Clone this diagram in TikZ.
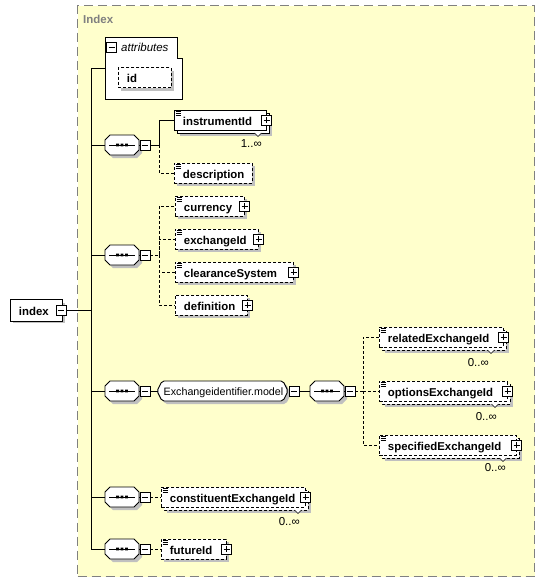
\documentclass[tikz,border=0pt]{standalone}
\usepackage{fontspec}
\setmainfont{Liberation Sans}
\usetikzlibrary{calc}
\definecolor{bgyellow}{RGB}{255,255,204}
\definecolor{shadowgray}{RGB}{192,192,192}
\definecolor{framegray}{RGB}{128,128,128}
\newcommand\elemfont{\bfseries\fontsize{11.4}{13}\selectfont}
\tikzset{
  conn/.style={line width=0.9pt},
  opt/.style={dash pattern=on 3pt off 2pt},
  ebox/.style={draw=black, fill=white, line width=0.9pt, inner sep=0pt, minimum height=20pt, anchor=west, font=\elemfont, text height=11pt, text depth=1pt},
  pmbox/.style={draw=black, fill=white, line width=0.9pt, inner sep=0pt, minimum size=10pt},
  mult/.style={font=\fontsize{11.5}{13}\selectfont, inner sep=0pt, anchor=east},
}
% plus box: name, position
\newcommand\plusbox[2]{%
  \node[pmbox] (#1) at (#2) {};
  \draw[line width=0.9pt] ([xshift=-3.2pt]#1.center) -- ([xshift=3.2pt]#1.center)
    ([yshift=-3.2pt]#1.center) -- ([yshift=3.2pt]#1.center);}
% minus box with dark shadow: name, position
\newcommand\minusbox[2]{%
  \fill[black] ($(#2)+(-3.6,-3.6)$) rectangle ($(#2)+(6.4,6.4)$);
  \node[pmbox] (#1) at (#2) {};
  \draw[line width=0.9pt] ([xshift=-3.2pt]#1.center) -- ([xshift=3.2pt]#1.center);}
% single element: name, x1, width, yc, style, text
\newcommand\elem[6]{%
  \fill[shadowgray] (#2+3,#4-7) rectangle (#2+#3+3,#4+13);
  \node[ebox,#5] (#1) at (#2,#4) {\makebox[#3pt][l]{\hspace*{8.5pt}#6}};}
% multiple element: name, x1, width, yc, style, text
\newcommand\multielem[6]{%
  \fill[shadowgray] (#2+6,#4-4) rectangle (#2+#3+6,#4+16);
  \draw[fill=white, line width=0.9pt, #5] (#2+3,#4-7) rectangle (#2+#3+3,#4+13);
  \node[ebox,#5] (#1) at (#2,#4) {\makebox[#3pt][l]{\hspace*{8.5pt}#6}};}
% documentation icon
\newcommand\docicon[1]{%
  \draw[line width=0.6pt] ([shift={(1.5,1.8)}]#1.north west) -- ++(5.5,0)
    ([shift={(1.5,3.8)}]#1.north west) -- ++(5.5,0)
    ([shift={(1.5,5.8)}]#1.north west) -- ++(5.5,0);}
% multiplicity notch: x, y
\newcommand\notch[2]{%
  \draw[fill=white, line width=0.6pt] (#1-3.5,#2) -- (#1,#2+3.5) -- (#1+3.5,#2);}
% sequence compositor: name, xc, yc
\newcommand\seq[3]{%
  \begin{scope}[shift={(#2,#3)}]
    \fill[shadowgray] (-14,-2) -- (-9,-7) -- (15,-7) -- (20,-2) -- (20,8) -- (15,13) -- (-9,13) -- (-14,8) -- cycle;
    \draw[fill=white, line width=0.9pt] (-17,-5) -- (-12,-10) -- (12,-10) -- (17,-5) -- (17,5) -- (12,10) -- (-12,10) -- (-17,5) -- cycle;
    \draw[line width=0.9pt] (-13,0) -- (13,0);
    \fill (-5.8,-1.4) rectangle ++(2.8,2.8) (-1.4,-1.4) rectangle ++(2.8,2.8) (3,-1.4) rectangle ++(2.8,2.8);
  \end{scope}
  \node[inner sep=0pt, minimum width=34pt, minimum height=20pt] (#1) at (#2,#3) {};
  \minusbox{#1-m}{#2+23,#3}
  \draw[conn] (#1.east) -- (#1-m.west);}
\begin{document}
\begin{tikzpicture}[x=1pt,y=-1pt]
\useasboundingbox (0,0) rectangle (544,582);
% frame
\node[draw=framegray, dash pattern=on 9pt off 5pt, fill=bgyellow, line width=1.3pt,
      minimum width=457pt, minimum height=571pt, anchor=north west, inner sep=0pt] (frame) at (77,5) {};
\node[anchor=west, font=\bfseries\fontsize{11.5}{13}\selectfont, text=framegray, inner sep=0pt] (ttl) at (83,19) {Index};

% trunk
\coordinate (ttop) at (91,68);
\coordinate (tbot) at (91,549);
\draw[conn] (ttop) -- (tbot);

% index element
\elem{index}{10}{52}{310}{minimum height=22pt}{index}
\minusbox{index-m}{61,310}
\draw[conn] (index-m.east) -- (index-m.east -| ttop);

% attributes
\draw[fill=white, line width=0.9pt] (105,37) -- (177,37) -- (177,58) -- (182,58) -- (182,99) -- (105,99) -- cycle;
\node[inner sep=0pt, minimum width=77pt, minimum height=62pt] (attr) at (143.5,68) {};
\node[pmbox, minimum size=9.5pt] (attr-m) at (111.5,47.5) {};
\draw[line width=0.9pt] ([xshift=-3pt]attr-m.center) -- ([xshift=3pt]attr-m.center);
\node[anchor=west, inner sep=0pt, font=\itshape\fontsize{11.5}{13}\selectfont, text height=9pt, text depth=1pt] (attr-t) at (121,47.5) {attributes};
\elem{id}{118}{53}{77.5}{opt}{id}
\draw[conn] (ttop) -- (attr.west);

% sequence 1
\seq{s1}{122}{145}
\draw[conn] (s1.west -| ttop) -- (s1.west);
\multielem{inst}{174}{92}{120}{}{instrumentId}
\docicon{inst}
\plusbox{inst-p}{inst.east}
\notch{258}{133}
\node[mult] (inst-mul) at (262,144) {1..∞};
\elem{desc}{174}{78}{173}{opt}{description}
\docicon{desc}
\coordinate (b1) at (159,145);
\draw[conn] (s1-m.east) -- (b1) |- (inst.west);
\draw[conn,opt] (b1) |- (desc.west);

% sequence 2
\seq{s2}{122}{255}
\draw[conn] (s2.west -| ttop) -- (s2.west);
\elem{curr}{175}{69}{206}{opt}{currency}
\docicon{curr}
\plusbox{curr-p}{curr.east}
\elem{exch}{175}{83}{239}{opt}{exchangeId}
\docicon{exch}
\plusbox{exch-p}{exch.east}
\elem{clear}{175}{118}{272}{opt}{clearanceSystem}
\docicon{clear}
\plusbox{clear-p}{clear.east}
\elem{defn}{175}{72}{305}{opt}{definition}
\plusbox{defn-p}{defn.east}
\coordinate (b2) at (159,255);
\draw[conn,opt] (s2-m.east) -- (b2) |- (curr.west);
\draw[conn,opt] (b2) |- (exch.west);
\draw[conn,opt] (b2) |- (clear.west);
\draw[conn,opt] (b2) |- (defn.west);

% sequence 3
\seq{s3}{122}{391}
\draw[conn] (s3.west -| ttop) -- (s3.west);
\begin{scope}[shift={(222.5,391)}]
  \fill[shadowgray, rounded corners=2pt] (-62.5,3) -- (-57.5,-7) -- (63.5,-7) -- (68.5,3) -- (63.5,13) -- (-57.5,13) -- cycle;
  \draw[fill=white, line width=0.9pt, rounded corners=2pt] (-65.5,0) -- (-60.5,-10) -- (60.5,-10) -- (65.5,0) -- (60.5,10) -- (-60.5,10) -- cycle;
\end{scope}
\node[inner sep=0pt, minimum width=131pt, minimum height=20pt, font=\fontsize{10.7}{13}\selectfont, text height=10pt, text depth=1pt] (model) at (223.5,391) {Exchangeidentifier.model};
\minusbox{model-m}{294,391}
\draw[conn] (s3-m.east) -- (model.west);
\draw[conn] (model.east) -- (model-m.west);
\seq{s3b}{327}{391}
\draw[conn] (model-m.east) -- (s3b.west);
\multielem{rel}{379}{124}{337}{opt}{relatedExchangeId}
\docicon{rel}
\plusbox{rel-p}{rel.east}
\notch{491}{350}
\node[mult] (rel-mul) at (489,363) {0..∞};
\multielem{opts}{379}{128}{391}{opt}{optionsExchangeId}
\docicon{opts}
\plusbox{opts-p}{opts.east}
\notch{495}{404}
\node[mult] (opts-mul) at (497,417) {0..∞};
\multielem{spec}{379}{137}{445}{opt}{specifiedExchangeId}
\docicon{spec}
\plusbox{spec-p}{spec.east}
\notch{503}{458}
\node[mult] (spec-mul) at (506,468) {0..∞};
\coordinate (b3) at (363,391);
\draw[conn,opt] (s3b-m.east) -- (b3) |- (rel.west);
\draw[conn,opt] (b3) |- (opts.west);
\draw[conn,opt] (b3) |- (spec.west);

% sequence 4
\seq{s4}{122}{497}
\draw[conn] (s4.west -| ttop) -- (s4.west);
\multielem{const}{161}{144}{497}{opt}{constituentExchangeId}
\docicon{const}
\plusbox{const-p}{const.east}
\notch{298}{510}
\node[mult] (const-mul) at (300,522) {0..∞};
\draw[conn,opt] (s4-m.east) -- (const.west);

% sequence 5
\seq{s5}{122}{549}
\draw[conn] (s5.west -| ttop) -- (s5.west);
\elem{fut}{161}{65}{549}{opt}{futureId}
\docicon{fut}
\plusbox{fut-p}{fut.east}
\draw[conn,opt] (s5-m.east) -- (fut.west);
\end{tikzpicture}
\end{document}
